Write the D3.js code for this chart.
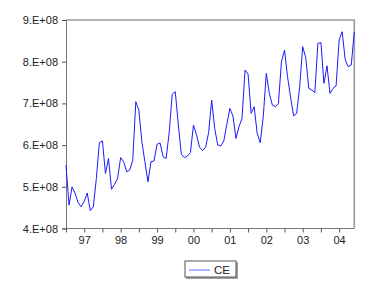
<!DOCTYPE html>
<html><head><meta charset="utf-8">
<script src="https://cdn.jsdelivr.net/npm/d3@7"></script>
<style>body{margin:0;background:#fff}svg{display:block}text{font-family:"Liberation Sans",Arial,sans-serif}</style>
</head><body><div id="chart"></div>
<script>
// monthly series CE, 1997M01 .. 2004M12 (values in units of 1E+08)
const startYear = 1997;
const ceValues = [
 5.52,4.56,5.00,4.84,4.62,4.52,4.65,4.85,4.43,4.52,5.20,6.06,
 6.10,5.32,5.68,4.94,5.06,5.20,5.70,5.60,5.36,5.40,5.64,7.04,
 6.84,6.08,5.60,5.12,5.60,5.62,6.02,6.05,5.72,5.68,6.30,7.22,
 7.28,6.50,5.78,5.70,5.74,5.82,6.48,6.25,5.95,5.87,5.95,6.30,
 7.08,6.40,6.00,5.98,6.10,6.50,6.88,6.70,6.16,6.44,6.64,7.80,
 7.70,6.76,6.92,6.28,6.06,6.68,7.72,7.24,6.96,6.92,7.00,8.00,
 8.28,7.64,7.15,6.70,6.76,7.40,8.36,8.10,7.36,7.32,7.26,8.44,
 8.46,7.48,7.90,7.24,7.36,7.42,8.52,8.72,8.05,7.88,7.92,8.72
];
const yTickValues = [4,5,6,7,8,9];
const yTickLabels = ["4.E+08","5.E+08","6.E+08","7.E+08","8.E+08","9.E+08"];
const xTickLabels = ["97","98","99","00","01","02","03","04"];
const seriesName = "CE";

const W = 380, H = 292;
const L = 66, R = 354.3, T = 20, B = 228.5;
const svg = d3.select("#chart").append("svg").attr("width", W).attr("height", H);

const x = d3.scaleLinear().domain([0, ceValues.length - 1]).range([L, R]);
const y = d3.scaleLinear().domain([4, 9]).range([B, T]);

// frame top/right
svg.append("path").attr("d", `M${L},${T}H${R}V${B}`).attr("fill","none")
  .attr("stroke","#9a9a9a").attr("stroke-width",1.6);

// y axis
const yAxis = d3.axisLeft(y).tickValues(yTickValues)
  .tickFormat((d,i)=>yTickLabels[i]).tickSize(4).tickPadding(4);
const gy = svg.append("g").attr("transform",`translate(${L},0)`).call(yAxis);
gy.select(".domain").attr("stroke","#777");
gy.selectAll(".tick line").attr("stroke","#555");
gy.selectAll("text").attr("font-size",11).attr("fill","#222")
  .attr("font-family","'Liberation Sans',Arial,sans-serif");

// x axis: ticks every 6 months, labels at mid-year
const xTicks = d3.range(0, ceValues.length, 6);
const xAxis = d3.axisBottom(x).tickValues(xTicks)
  .tickFormat(d => (d % 12 === 6) ? xTickLabels[(d - 6) / 12] : "")
  .tickSize(4).tickPadding(4).tickSizeOuter(0);
const gx = svg.append("g").attr("transform",`translate(0,${B})`).call(xAxis);
gx.select(".domain").attr("stroke","#777").attr("d", `M${L},0H${R}`);
gx.selectAll(".tick line").attr("stroke","#555");
gx.selectAll("text").attr("font-size",11).attr("fill","#222")
  .attr("font-family","'Liberation Sans',Arial,sans-serif");

// series line
const line = d3.line().x((d,i)=>x(i)).y(d=>y(d));
svg.append("path").datum(ceValues).attr("d", line).attr("fill","none")
  .attr("stroke","#1a1aff").attr("stroke-width",1);

// legend
const lg = svg.append("g");
lg.append("rect").attr("x",186).attr("y",262).attr("width",52).attr("height",17).attr("fill","#a0a0a0");
lg.append("rect").attr("x",185).attr("y",261).attr("width",51).attr("height",16)
  .attr("fill","#fff").attr("stroke","#555").attr("stroke-width",1);
lg.append("line").attr("x1",189).attr("x2",210).attr("y1",270).attr("y2",270)
  .attr("stroke","#9a9aff").attr("stroke-width",1.5);
lg.append("text").attr("x",214).attr("y",274).attr("font-size",11.5).attr("fill","#222").text(seriesName);
</script></body></html>
